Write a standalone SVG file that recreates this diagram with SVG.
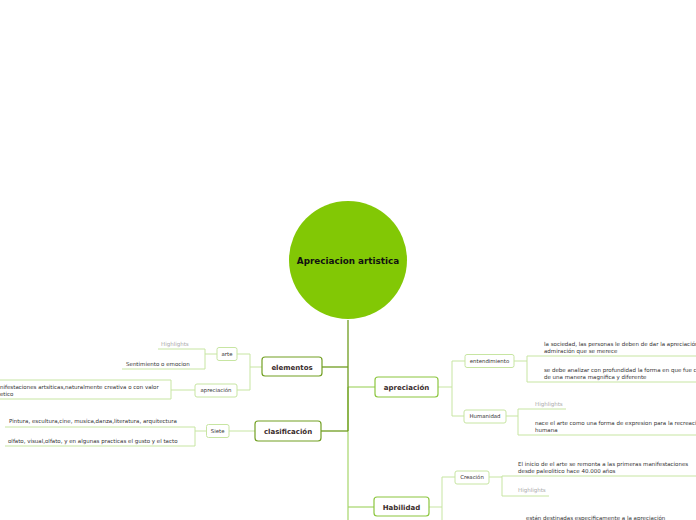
<svg xmlns="http://www.w3.org/2000/svg" width="696" height="520" viewBox="0 0 696 520">
<style>
.bg{fill:#fff}
.mainL{fill:#fff;stroke:#72a023;stroke-width:1.2}
.mainR{fill:#fff;stroke:#8cc63f;stroke-width:1.2}
.sub{fill:#fff;stroke:#c7e5a2;stroke-width:1}
.tm{font-family:"DejaVu Sans",Verdana,sans-serif;font-weight:bold;font-size:7px;fill:#3a2c2c;text-anchor:middle}
.ts{font-family:"DejaVu Sans",Verdana,sans-serif;font-size:5.4px;fill:#333;text-anchor:middle}
.tl{font-family:"DejaVu Sans",Verdana,sans-serif;font-size:5.5px;fill:#333}
.th{font-family:"DejaVu Sans",Verdana,sans-serif;font-size:5.5px;fill:#aaa}
.dk{stroke:#6e9c1e;stroke-width:1.3;fill:none}
.lt{stroke:#a6d66a;stroke-width:1.2;fill:none}
.ll{stroke:#c7e5a2;stroke-width:1;fill:none}
</style>
<rect class="bg" x="0" y="0" width="696" height="520"/>
<g id="connectors">
  <path class="lt" d="M348,387 V520"/>
  <path class="lt" d="M348,387 H375"/>
  <path class="lt" d="M348,507 H374"/>
  <path class="dk" d="M348,320 V431"/>
  <path class="dk" d="M322,367 H348"/>
  <path class="dk" d="M321,431 H348"/>
  <path class="ll" d="M262,367 H250 M250,354 V390 M237,354 H250 M237,390 H250"/>
  <path class="ll" d="M217,354 H205 M205,349 V369 M158,349 H205 M122,369 H205"/>
  <path class="ll" d="M195,390 H171 M0,380 H171 V399 H0"/>
  <path class="ll" d="M255,431 H229 M206,431 H195 M195,427 V446 M5,427 H195 M5,446 H195"/>
  <path class="ll" d="M438,387 H452 M452,361 V416 M452,361 H465 M452,416 H464"/>
  <path class="ll" d="M514,361 H527 M527,356 V382 M527,356 H696 M527,382 H696"/>
  <path class="ll" d="M506,416 H518 M518,409 V435 M518,409 H566 M518,435 H696"/>
  <path class="ll" d="M429,507 H442 M442,477 V520 M442,477 H455"/>
  <path class="ll" d="M489,477 H502 M502,476 V496 M502,476 H696 M502,496 H549"/>
</g>
<g id="root">
  <circle cx="348" cy="260" r="59" fill="#82c805"/>
  <text class="tm" x="348" y="264" style="font-size:8.8px;fill:#111">Apreciacion artistica</text>
</g>
<g id="elementos">
  <rect class="mainL" x="262" y="357" width="60" height="19" rx="3"/>
  <text class="tm" x="292" y="369.5">elementos</text>
</g>
<g id="clasificacion">
  <rect class="mainL" x="255" y="421" width="66" height="20" rx="3"/>
  <text class="tm" x="288" y="433.5">clasificación</text>
</g>
<g id="apreciacion">
  <rect class="mainR" x="375" y="377" width="63" height="20" rx="3"/>
  <text class="tm" x="406.5" y="389.5">apreciación</text>
</g>
<g id="habilidad">
  <rect class="mainR" x="374" y="497" width="55" height="19" rx="3"/>
  <text class="tm" x="401.5" y="509.5">Habilidad</text>
</g>
<g id="arte">
  <rect class="sub" x="217" y="347.5" width="20" height="13" rx="2"/>
  <text class="ts" x="227" y="355.8">arte</text>
</g>
<g id="apreciacion-left">
  <rect class="sub" x="195" y="384" width="42" height="13" rx="2"/>
  <text class="ts" x="216" y="392.3">apreciación</text>
</g>
<g id="siete">
  <rect class="sub" x="206.5" y="424.5" width="22.5" height="13" rx="2"/>
  <text class="ts" x="217.7" y="432.8">Siete</text>
</g>
<g id="entendimiento">
  <rect class="sub" x="465" y="354.5" width="49" height="13" rx="2"/>
  <text class="ts" x="489.5" y="362.8">entendimiento</text>
</g>
<g id="humanidad">
  <rect class="sub" x="464" y="410" width="42" height="13" rx="2"/>
  <text class="ts" x="485" y="418.3">Humanidad</text>
</g>
<g id="creacion">
  <rect class="sub" x="455" y="471" width="34" height="13" rx="2"/>
  <text class="ts" x="472" y="479.3">Creación</text>
</g>
<g id="leaves">
  <text class="th" x="161" y="346">Highlights</text>
  <text class="tl" x="126" y="366">Sentimiento o emocion</text>
  <text class="tl" x="-8.7" y="389">manifestaciones artsiticas,naturalmente creativa o con valor</text>
  <text class="tl" x="-8.5" y="396">estetico</text>
  <text class="tl" x="9" y="423">Pintura, escultura,cine, musica,danza,literatura, arquitectura</text>
  <text class="tl" x="8" y="443">olfato, visual,olfato, y en algunas practicas el gusto y el tacto</text>
  <text class="tl" x="544" y="346">la sociedad, las personas le deben de dar la apreciación</text>
  <text class="tl" x="544" y="353">admiración que se merece</text>
  <text class="tl" x="544" y="372">se debe analizar con profundidad la forma en que fue c</text>
  <text class="tl" x="544" y="379">de una manera magnifica y diferente</text>
  <text class="th" x="535" y="406">Highlights</text>
  <text class="tl" x="535" y="425">nace el arte como una forma de expresion para la recreaci</text>
  <text class="tl" x="535" y="432">humana</text>
  <text class="tl" x="518" y="466">El inicio de el arte se remonta a las primeras manifestaciones</text>
  <text class="tl" x="518" y="473">desde paleolitico hace 40.000 años</text>
  <text class="th" x="518" y="492">Highlights</text>
  <text class="tl" x="526" y="520">están destinadas especificamente a la apreciación</text>
</g>
</svg>
